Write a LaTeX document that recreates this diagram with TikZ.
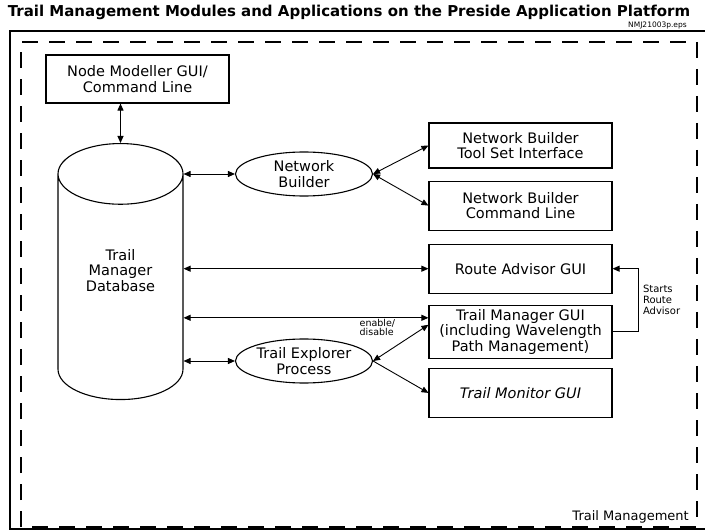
\documentclass[tikz,border=0pt]{standalone}
\usepackage{fontspec}
\setmainfont{DejaVu Sans}
\usetikzlibrary{shapes.geometric,arrows.meta,positioning,calc}

\begin{document}
\begin{tikzpicture}[x=1pt, y=1pt,
  box/.style={rectangle, draw=black, line width=1.1pt, minimum width=183pt,
    minimum height=49pt, align=center, inner sep=2pt, font=\fontsize{14.5}{15.5}\selectfont},
  proc/.style={ellipse, draw=black, line width=1.1pt, minimum width=137pt,
    minimum height=44pt, inner sep=0pt, align=center, font=\fontsize{14.5}{15.5}\selectfont},
  dbase/.style={cylinder, shape border rotate=90, aspect=0.8, draw=black, line width=1.1pt,
    minimum width=125pt, minimum height=256pt, align=center, font=\fontsize{14.5}{15.5}\selectfont},
  arr/.style={-{Triangle[length=7pt, width=6pt]}, line width=0.9pt},
  darr/.style={{Triangle[length=7pt, width=6pt]}-{Triangle[length=7pt, width=6pt]}, line width=0.9pt},
  lbl/.style={align=left, inner sep=1pt, font=\fontsize{10}{11}\selectfont}
]
\useasboundingbox (0,0) rectangle (705,531);

\node[font=\bfseries\fontsize{15}{17}\selectfont] (title) at (349,519)
  {Trail Management Modules and Applications on the Preside Application Platform};
\node[anchor=west, inner sep=0pt, font=\fontsize{7.5}{8}\selectfont] (eps) at (628,506) {NMJ21003p.eps};

\draw[line width=1.5pt] (705,500) -- (10,500) -- (10,2) -- (705,2);
\draw[line width=1.3pt, dash pattern=on 16pt off 11pt] (21,4) rectangle (697,489);
\node[anchor=south east, inner sep=0pt, font=\fontsize{13}{14}\selectfont] (tmgmt) at (689,8) {Trail Management};

\node[box, minimum height=48pt] (nm) at (137.5,452) {Node Modeller GUI/\\Command Line};
\node[dbase, anchor=north] (db) at (120.5,388) {Trail\\Manager\\Database\\[28pt]\mbox{}};
\node[proc] (nb) at (304,357) {Network\\Builder};
\node[proc] (te) at (304,170) {Trail Explorer\\Process};

\node[box, minimum height=45pt] (tsi) at (520.5,385.5) {Network Builder\\Tool Set Interface};
\node[box, below=12pt of tsi] (nbc) {Network Builder\\Command Line};
\node[box, below=13pt of nbc] (ra) {Route Advisor GUI};
\node[box, minimum height=53pt, below=11pt of ra] (tm) {Trail Manager GUI\\(including Wavelength\\Path Management)};
\node[box, below=9pt of tm] (tmon) {\itshape Trail Monitor GUI};

\coordinate (tmin) at ([yshift=14pt]tm.west);
\coordinate (tmen) at ([yshift=7pt]tm.west);

\draw[darr] (db.north |- nm.south) -- (db.north);
\draw[darr] (db.east |- nb.west) -- (nb.west);
\draw[darr] (nb.east) -- (tsi.west);
\draw[darr] (nb.east) -- (nbc.west);
\draw[darr] (db.east |- ra.west) -- (ra.west);
\draw[darr] (db.east |- tmin) -- (tmin);
\draw[darr] (db.east |- te.west) -- (te.west);
\draw[darr] (te.east) -- (tmen) node[lbl, pos=0.55, anchor=south east, xshift=-7pt, yshift=4pt, font=\fontsize{9.5}{9.5}\selectfont] {enable/\\disable};
\draw[arr] (te.east) -- (tmon.west);
\draw[arr] (tm.east) -- ++(26pt,0) |- (ra.east) node[lbl, pos=0.25, right=3pt] {Starts\\Route\\Advisor};
\end{tikzpicture}
\end{document}
